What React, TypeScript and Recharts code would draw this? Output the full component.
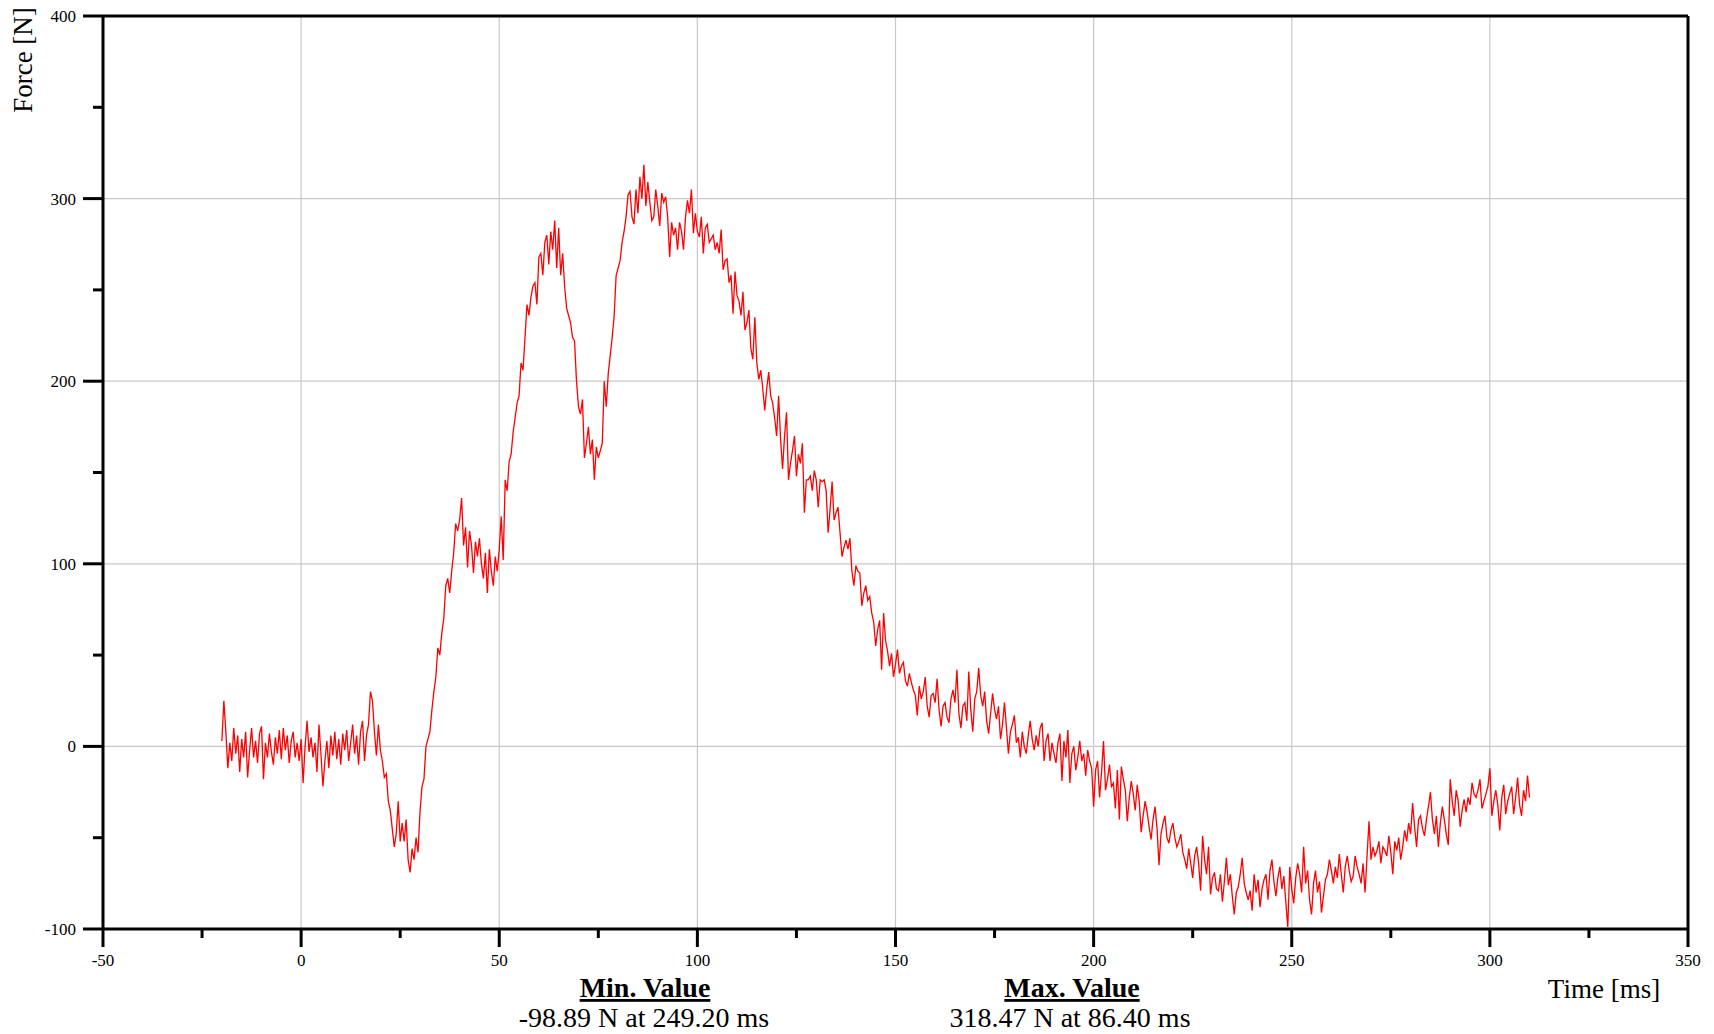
import React from 'react';
import { LineChart, Line, XAxis, YAxis, ReferenceLine } from 'recharts';

const FONT = '"Liberation Serif", "Times New Roman", Times, serif';

// Time axis: samples every 0.5 ms starting at -20 ms
const T_START = -20;
const T_STEP = 0.5;

// Force [N] samples, grouped by time block
const forceA = [ // -20 .. 29.5 ms
  3, 25, 8, -12, 2, -8, 10, -4, 6, -14, 4, -6, 8, -17, -2, 10, -6, 3, -9, 7,
  11, -18, 2, -6, 7, -3, -10, 5, -4, 9, -7, 10, -2, 6, -9, 3, 8, -6, 2, -8,
  4, -20, 0, 14, -3, 5, -6, 2, -14, 12, -4, -22, -8, 3, -12, 6, -5, 8, -7, 4,
  -10, 7, -2, 9, -8, 2, 12, -4, 6, -10, 8, 14, -8, 6, 12, 30, 25, 8, -5, 12,
  -2, -8, -17, -15, -30, -35, -45, -55, -48, -30, -52, -42, -52, -40, -62, -69, -56, -62, -50, -58,
];
const forceB = [ // 30 .. 79.5 ms
  -36, -22, -18, 0, 4, 8, 20, 30, 38, 54, 50, 62, 70, 88, 92, 84, 96, 106, 122, 118,
  124, 136, 110, 120, 98, 118, 110, 95, 112, 104, 114, 100, 92, 106, 84, 108, 96, 88, 104, 96,
  108, 126, 102, 146, 140, 156, 160, 172, 180, 188, 192, 210, 206, 224, 242, 236, 246, 252, 254, 242,
  268, 270, 258, 276, 280, 264, 282, 272, 288, 262, 284, 258, 270, 252, 240, 236, 232, 224, 222, 200,
  186, 182, 190, 158, 166, 175, 160, 168, 146, 164, 158, 162, 166, 200, 186, 204, 214, 224, 236, 258,
];
const forceC = [ // 80 .. 129.5 ms
  262, 266, 276, 282, 290, 302, 304, 290, 286, 305, 292, 312, 300, 318.47, 296, 309, 298, 288, 290, 305,
  296, 285, 303, 298, 301, 290, 268, 287, 280, 284, 272, 287, 282, 272, 290, 299, 292, 305, 281, 292,
  282, 279, 290, 270, 284, 286, 276, 278, 280, 272, 276, 270, 283, 261, 266, 267, 254, 258, 237, 260,
  247, 244, 236, 249, 228, 232, 239, 218, 212, 235, 210, 201, 206, 196, 184, 196, 205, 192, 188, 180,
  170, 192, 168, 152, 170, 183, 146, 155, 162, 170, 148, 160, 155, 166, 128, 146, 146, 148, 140, 151,
];
const forceD = [ // 130 .. 179.5 ms
  146, 131, 146, 145, 146, 140, 117, 130, 145, 124, 128, 131, 117, 104, 109, 113, 108, 114, 96, 88,
  99, 96, 95, 77, 84, 88, 80, 82, 73, 68, 55, 64, 69, 42, 73, 58, 52, 44, 51, 38,
  45, 53, 40, 44, 46, 36, 33, 40, 35, 31, 28, 17, 33, 26, 30, 38, 22, 16, 28, 29,
  24, 37, 20, 11, 22, 24, 16, 13, 26, 31, 24, 42, 18, 10, 22, 24, 14, 41, 20, 8,
  26, 30, 43, 28, 22, 30, 14, 7, 18, 29, 20, 15, 22, 4, 12, 24, 10, -4, 8, 12,
];
const forceE = [ // 180 .. 229.5 ms
  17, 2, 5, -6, 8, 0, -4, 6, 14, 4, -2, 6, 0, 10, 13, -8, 3, 7, -8, 2,
  -4, -9, 2, 7, -19, 3, -6, 9, -20, -4, 0, -13, -6, 3, -8, -4, -16, -2, -8, -12,
  -33, -13, -8, -28, -14, 3, -24, -18, -10, -22, -20, -34, -13, -40, -11, -18, -24, -41, -28, -19,
  -26, -35, -21, -30, -47, -38, -30, -36, -44, -51, -40, -33, -45, -65, -48, -42, -38, -50, -53, -46,
  -42, -50, -55, -52, -48, -58, -62, -67, -56, -64, -72, -60, -55, -64, -79, -49, -62, -70, -55, -81,
];
const forceF = [ // 230 .. 279.5 ms
  -72, -69, -78, -79, -70, -85, -74, -61, -76, -70, -82, -92, -80, -77, -70, -61, -75, -80, -84, -79,
  -90, -70, -80, -73, -88, -78, -73, -70, -84, -68, -62, -74, -82, -72, -66, -78, -71, -85, -98.89, -66,
  -78, -86, -72, -64, -70, -80, -55, -75, -68, -84, -92, -75, -68, -80, -74, -91, -82, -73, -70, -62,
  -68, -75, -66, -72, -59, -70, -80, -66, -60, -68, -74, -71, -60, -66, -70, -75, -64, -80, -60, -41,
  -62, -55, -60, -57, -52, -64, -55, -57, -60, -49, -58, -70, -52, -57, -50, -62, -55, -46, -52, -42,
];
const forceG = [ // 280 .. 310 ms
  -48, -31, -44, -55, -40, -38, -45, -49, -40, -33, -25, -40, -48, -38, -55, -42, -33, -40, -48, -54,
  -18, -30, -38, -24, -30, -44, -35, -29, -36, -28, -32, -20, -26, -28, -24, -18, -34, -30, -26, -22,
  -12, -38, -30, -24, -32, -46, -28, -21, -37, -30, -26, -22, -37, -28, -17, -32, -38, -24, -30, -16, -28,
];

const forces = [...forceA, ...forceB, ...forceC, ...forceD, ...forceE, ...forceF, ...forceG];
const data = forces.map((f, i) => ({ t: T_START + i * T_STEP, f }));

const xTicks = [-50, -25, 0, 25, 50, 75, 100, 125, 150, 175, 200, 225, 250, 275, 300, 325, 350];
const yTicks = [-100, -50, 0, 50, 100, 150, 200, 250, 300, 350, 400];
const xGrid = [0, 50, 100, 150, 200, 250, 300];
const yGrid = [0, 100, 200, 300];

const minLabel = '-98.89 N at 249.20 ms';
const maxLabel = '318.47 N at 86.40 ms';

const XTick = (props: any) => {
  const { x, y, payload } = props;
  const v = payload.value;
  const major = v % 50 === 0;
  return (
    <g>
      <line x1={x} x2={x} y1={y} y2={y + (major ? 18 : 9)} stroke="#000" strokeWidth={3} />
      {major && (
        <text x={x} y={y + 37} textAnchor="middle" fontFamily={FONT} fontSize={17} fill="#000">
          {v}
        </text>
      )}
    </g>
  );
};

const YTick = (props: any) => {
  const { x, y, payload } = props;
  const v = payload.value;
  const major = v % 100 === 0;
  return (
    <g>
      <line x1={x - (major ? 20 : 10)} x2={x} y1={y} y2={y} stroke="#000" strokeWidth={3} />
      {major && (
        <text x={x - 27} y={y + 6} textAnchor="end" fontFamily={FONT} fontSize={17} fill="#000">
          {v}
        </text>
      )}
    </g>
  );
};

export default function App() {
  return (
    <div style={{ position: 'absolute', left: 0, top: 0, width: 1714, height: 1034, background: '#fff' }}>
      <LineChart
        width={1714}
        height={1034}
        data={data}
        margin={{ top: 16, right: 26, bottom: 45, left: 43 }}
      >
        <XAxis
          dataKey="t"
          type="number"
          domain={[-50, 350]}
          ticks={xTicks}
          interval={0}
          height={60}
          tickSize={0}
          tickMargin={0}
          tickLine={false}
          axisLine={{ stroke: '#000', strokeWidth: 3 }}
          tick={<XTick />}
          allowDataOverflow
        />
        <YAxis
          type="number"
          domain={[-100, 400]}
          ticks={yTicks}
          interval={0}
          width={60}
          tickSize={0}
          tickMargin={0}
          tickLine={false}
          axisLine={{ stroke: '#000', strokeWidth: 3 }}
          tick={<YTick />}
          allowDataOverflow
        />
        {xGrid.map((v) => (
          <ReferenceLine key={'gx' + v} x={v} stroke="#c8c8c8" strokeWidth={1.2} />
        ))}
        {yGrid.map((v) => (
          <ReferenceLine key={'gy' + v} y={v} stroke="#c8c8c8" strokeWidth={1.2} />
        ))}
        <ReferenceLine y={400} stroke="#000" strokeWidth={3} />
        <ReferenceLine x={350} stroke="#000" strokeWidth={3} />
        <Line
          type="linear"
          dataKey="f"
          stroke="#ff0000"
          strokeWidth={1.3}
          dot={false}
          isAnimationActive={false}
        />
      </LineChart>
      <svg
        width={1714}
        height={1034}
        style={{ position: 'absolute', left: 0, top: 0, pointerEvents: 'none' }}
      >
        <text
          x={32}
          y={60}
          transform="rotate(-90 32 60)"
          textAnchor="middle"
          fontFamily={FONT}
          fontSize={27}
          fill="#000"
        >
          Force [N]
        </text>
        <text x={1604} y={998} textAnchor="middle" fontFamily={FONT} fontSize={27} fill="#000">
          Time [ms]
        </text>
        <text x={645} y={997} textAnchor="middle" fontFamily={FONT} fontSize={28} fontWeight="bold" textDecoration="underline" fill="#000">
          Min. Value
        </text>
        <text x={644} y={1027} textAnchor="middle" fontFamily={FONT} fontSize={28} fill="#000">
          {minLabel}
        </text>
        <text x={1072} y={997} textAnchor="middle" fontFamily={FONT} fontSize={28} fontWeight="bold" textDecoration="underline" fill="#000">
          Max. Value
        </text>
        <text x={1070} y={1027} textAnchor="middle" fontFamily={FONT} fontSize={28} fill="#000">
          {maxLabel}
        </text>
      </svg>
    </div>
  );
}
